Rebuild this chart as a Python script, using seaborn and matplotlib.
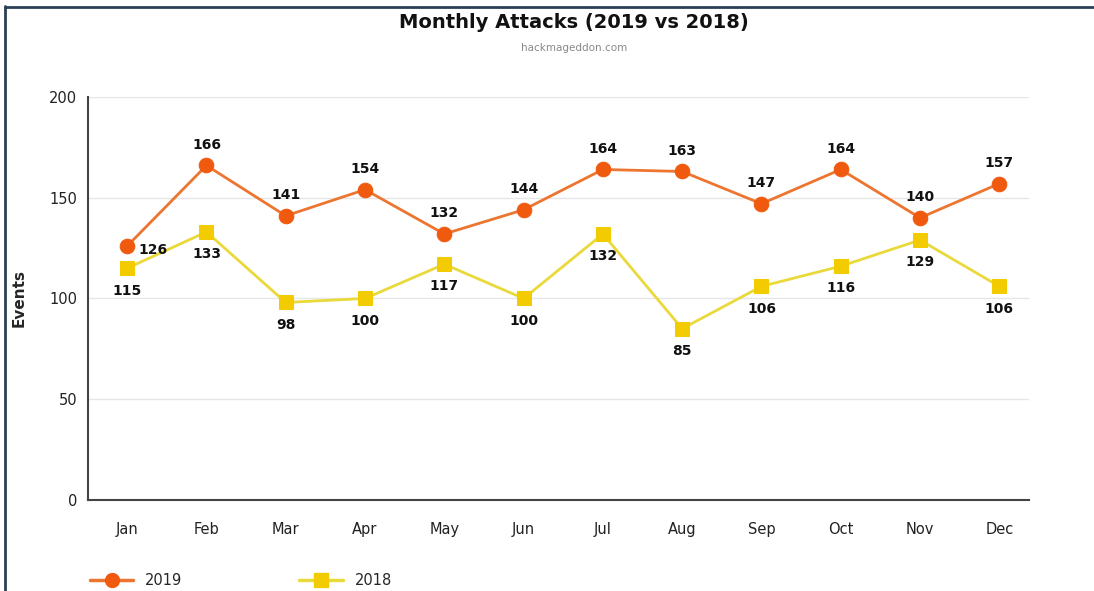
import matplotlib
matplotlib.use("Agg")
import matplotlib.pyplot as plt
import seaborn as sns
import pandas as pd
from matplotlib.lines import Line2D

months = ["Jan", "Feb", "Mar", "Apr", "May", "Jun", "Jul", "Aug", "Sep", "Oct", "Nov", "Dec"]
events_2019 = [126, 166, 141, 154, 132, 144, 164, 163, 147, 164, 140, 157]
events_2018 = [115, 133, 98, 100, 117, 100, 132, 85, 106, 116, 129, 106]
yticks = [0, 50, 100, 150, 200]

sns.set_theme(style="white")
plt.rcParams['font.family'] = ['DejaVu Sans']

df = pd.DataFrame({
    "Month": months * 2,
    "x": list(range(12)) * 2,
    "Events": events_2019 + events_2018,
    "Year": ["2019"] * 12 + ["2018"] * 12,
})

c19_line, c19_mk = "#EC7530", "#F05A0E"
c18_line, c18_mk = "#EAD93A", "#F2CC00"

fig = plt.figure(figsize=(10.94, 5.91), dpi=100)
ax = fig.add_axes([0.080, 0.154, 0.861, 0.682])

sns.lineplot(data=df, x="x", y="Events", hue="Year", style="Year",
             palette={"2019": c19_line, "2018": c18_line},
             markers={"2019": "o", "2018": "s"}, dashes=False,
             linewidth=2, markersize=10.5, legend=False, ax=ax)
for line in ax.lines:
    col = line.get_color()
    if col.lower() == c19_line.lower():
        line.set_markerfacecolor(c19_mk); line.set_markeredgecolor(c19_mk)
    else:
        line.set_markerfacecolor(c18_mk); line.set_markeredgecolor(c18_mk)

ax.set_xlim(-0.5, 11.38)
ax.set_ylim(0, 200)
ax.set_xticks(range(12))
ax.set_xticklabels(months)
ax.set_yticks(yticks)
ax.tick_params(axis="both", labelsize=10.5, colors="#222222", length=4, width=1, direction="out")
ax.tick_params(axis="x", pad=12)
ax.set_xlabel("")
ax.set_ylabel("Events", fontsize=11, fontweight="bold", labelpad=16)
for s in ["top", "right"]:
    ax.spines[s].set_visible(False)
for s in ["left", "bottom"]:
    ax.spines[s].set_color("#444444")
    ax.spines[s].set_linewidth(1.5)
ax.grid(axis="y", color="#e6e6e6", linewidth=1)
ax.set_axisbelow(True)

for i, v in enumerate(events_2019):
    if i == 0:
        ax.annotate(str(v), (i, v), xytext=(8, -3), textcoords="offset points",
                    ha="left", va="center", fontsize=10, fontweight="bold", color="#111111")
    else:
        ax.annotate(str(v), (i, v), xytext=(0, 10), textcoords="offset points",
                    ha="center", va="bottom", fontsize=10, fontweight="bold", color="#111111")
for i, v in enumerate(events_2018):
    ax.annotate(str(v), (i, v), xytext=(0, -11), textcoords="offset points",
                ha="center", va="top", fontsize=10, fontweight="bold", color="#111111")

fig.text(0.525, 0.962, "Monthly Attacks (2019 vs 2018)", ha="center", va="center",
         fontsize=14, fontweight="bold", color="#111111")
fig.text(0.525, 0.918, "hackmageddon.com", ha="center", va="center",
         fontsize=7.5, color="#888888")

handles = [Line2D([], [], color=c19_line, marker="o", markerfacecolor=c19_mk,
                  markeredgecolor=c19_mk, markersize=10, linewidth=2.5),
           Line2D([], [], color=c18_line, marker="s", markerfacecolor=c18_mk,
                  markeredgecolor=c18_mk, markersize=10, linewidth=2.5)]
fig.legend(handles, ["2019", "2018"], loc="center left", bbox_to_anchor=(0.07, 0.018),
           ncol=2, frameon=False, fontsize=10.5, columnspacing=8, handlelength=3)

fig.add_artist(Line2D([0.005, 0.005], [0, 0.99], color="#2b3f56", linewidth=2, transform=fig.transFigure))
fig.add_artist(Line2D([0.005, 1.0], [0.988, 0.988], color="#2b3f56", linewidth=2, transform=fig.transFigure))

fig.savefig("out.png", dpi=100)
